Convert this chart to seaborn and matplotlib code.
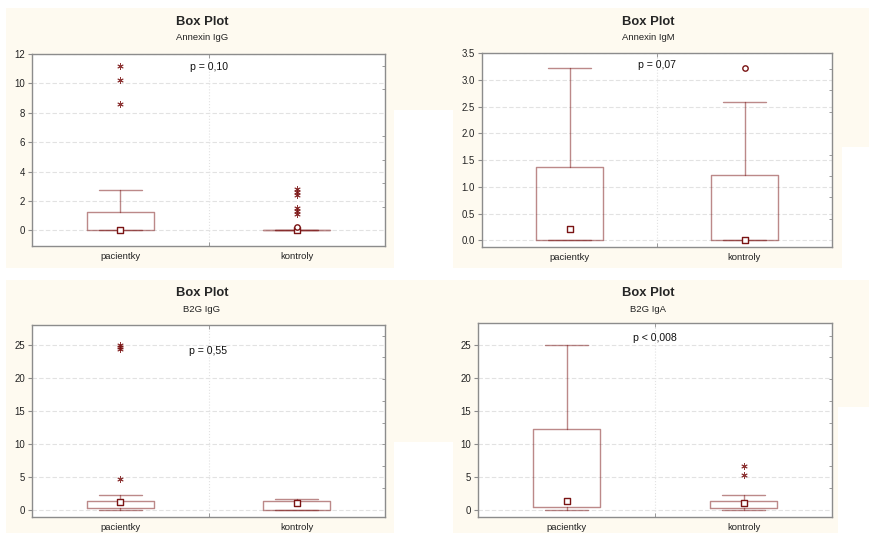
import numpy as np
import pandas as pd
import matplotlib.pyplot as plt
import seaborn as sns
from matplotlib.patches import Rectangle
from matplotlib.ticker import MultipleLocator

sns.set_style('white')
plt.rcParams['font.family'] = ['Liberation Sans', 'DejaVu Sans']

groups = ['pacientky', 'kontroly']
subtitles = ['Annexin IgG', 'Annexin IgM', 'B2G IgG', 'B2G IgA']
p_labels = ['p = 0,10', 'p = 0,07', 'p = 0,55', 'p < 0,008']
p_label_y = [11.1, 3.27, 24.0, 26.0]

# per panel: [pacientky, kontroly]
medians = [[0.0, 0.0], [0.22, 0.0], [1.17, 1.0], [1.25, 0.95]]
q1 = [[0.0, 0.0], [0.0, 0.0], [0.3, 0.0], [0.45, 0.25]]
q3 = [[1.25, 0.05], [1.37, 1.22], [1.27, 1.37], [12.3, 1.37]]
whis_lo = [[0.0, 0.0], [0.0, 0.0], [0.0, 0.0], [0.0, 0.0]]
whis_hi = [[2.75, 0.05], [3.22, 2.58], [2.18, 1.67], [24.9, 2.28]]
outliers = [[[], [0.22]], [[], [3.22]], [[], []], [[], []]]
extremes = [[[11.2, 10.2, 8.6], [2.8, 2.6, 2.4, 1.55, 1.3, 1.1]],
            [[], []],
            [[25.0, 24.7, 24.35, 4.7], []],
            [[], [6.7, 5.3]]]

ylims = [(-1.06, 12), (-0.125, 3.5), (-1.1, 28.0), (-1.1, 28.3)]
yticks = [np.arange(0, 13, 2), np.arange(0, 3.51, 0.5),
          np.arange(0, 26, 5), np.arange(0, 26, 5)]
ytick_fmt = ['{:.0f}', '{:.1f}', '{:.0f}', '{:.0f}']
right_step = [1.6, 0.4, 3.3, 3.3]

W, H = 869, 533
cream = '#fefaf0'
dark = '#7a1414'
grey = '#8c8c8c'

fig = plt.figure(figsize=(W / 100, H / 100), dpi=100)
fig.patch.set_facecolor('white')

# cream panel backgrounds (pixel boxes: x0, y0, x1, y1, top-down)
bg_boxes = [(6, 8, 869, 110), (6, 110, 394, 268), (453, 110, 869, 147),
            (453, 147, 842, 268),
            (6, 280, 869, 407), (6, 407, 838, 442), (6, 442, 394, 533),
            (453, 442, 838, 533)]
for x0, y0, x1, y1 in bg_boxes:
    fig.add_artist(Rectangle((x0 / W, 1 - y1 / H), (x1 - x0) / W, (y1 - y0) / H,
                             transform=fig.transFigure, facecolor=cream,
                             edgecolor='none', zorder=-10))

ax_boxes = [(32, 54, 385, 246), (482, 53, 832, 247),
            (32, 325, 385, 517), (478, 323, 832, 517)]
title_pos = [(202, 22, 38), (648, 22, 38), (202, 293, 309), (648, 293, 309)]

for i in range(4):
    x0, y0, x1, y1 = ax_boxes[i]
    ax = fig.add_axes([x0 / W, 1 - y1 / H, (x1 - x0) / W, (y1 - y0) / H])
    ax.set_facecolor('white')

    stats = []
    for j in range(2):
        stats.append(dict(med=medians[i][j], q1=q1[i][j], q3=q3[i][j],
                          whislo=whis_lo[i][j], whishi=whis_hi[i][j],
                          fliers=[], label=groups[j]))
    lp = dict(color=dark, alpha=0.5, linewidth=1)
    ax.bxp(stats, positions=[0, 1], widths=0.38, capwidths=0.245,
           showfliers=False, boxprops=lp, whiskerprops=lp, capprops=lp,
           medianprops=dict(linewidth=0))

    med_df = pd.DataFrame({'pos': [0, 1], 'value': medians[i]})
    sns.scatterplot(data=med_df, x='pos', y='value', marker='s', s=15,
                    facecolor='white', edgecolor=dark, linewidth=1,
                    ax=ax, zorder=5)

    out_pos, out_val = [], []
    ext_pos, ext_val = [], []
    for j in range(2):
        out_pos += [j] * len(outliers[i][j])
        out_val += outliers[i][j]
        ext_pos += [j] * len(extremes[i][j])
        ext_val += extremes[i][j]
    if out_val:
        sns.scatterplot(x=out_pos, y=out_val, marker='o', s=15,
                        facecolor='white', edgecolor=dark, linewidth=1,
                        ax=ax, zorder=5)
    if ext_val:
        sns.scatterplot(x=ext_pos, y=ext_val, marker=(6, 2, 0), s=16,
                        color=dark, linewidth=0.7, alpha=0.85, ax=ax, zorder=5)

    ax.set_xlim(-0.5, 1.5)
    ax.set_ylim(*ylims[i])
    ax.set_xticks([0, 1])
    ax.set_xticklabels(groups)
    ax.set_xticks([0.5], minor=True)
    ax.set_yticks(yticks[i])
    ax.set_yticklabels([ytick_fmt[i].format(v) for v in yticks[i]])
    ax.yaxis.set_minor_locator(MultipleLocator(right_step[i]))
    ax.set_xlabel('')
    ax.set_ylabel('')

    ax.yaxis.grid(True, which='major', color='#e2e2e2',
                  linestyle=(0, (4, 2)), linewidth=0.8)
    ax.axvline(0.5, color='#e2e2e2', linestyle=':', linewidth=0.8, zorder=0)
    ax.set_axisbelow(True)

    ax.tick_params(axis='x', which='major', length=0, pad=4, labelsize=6.8,
                   labelcolor='#222222')
    ax.tick_params(axis='x', which='minor', length=3, color=grey,
                   bottom=True, top=True, direction='in')
    ax.tick_params(axis='y', which='major', length=3, color=grey, left=True,
                   direction='out', labelsize=6.9, labelcolor='#222222', pad=2)
    ax.tick_params(axis='y', which='minor', length=2, color=grey, left=False,
                   right=True, direction='in')
    for s in ax.spines.values():
        s.set_color(grey)
        s.set_linewidth(1)
        s.set_visible(True)

    ax.text(0.5, p_label_y[i], p_labels[i], ha='center', va='center',
            fontsize=7.6, color='#111111')

    tx, ty, sy = title_pos[i]
    fig.text(tx / W, 1 - ty / H, 'Box Plot', ha='center', va='center',
             fontsize=9.4, fontweight='bold')
    fig.text(tx / W, 1 - sy / H, subtitles[i], ha='center', va='center',
             fontsize=6.8, color='#222222')

fig.savefig('out.png', dpi=100)
